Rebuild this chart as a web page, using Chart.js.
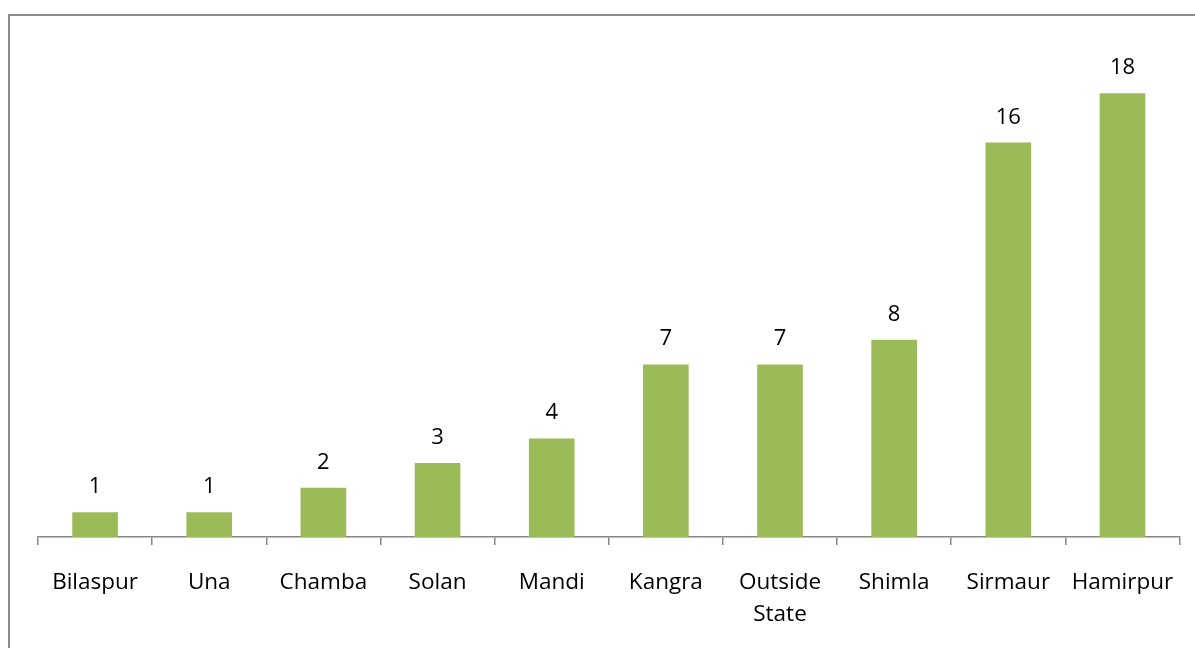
<!DOCTYPE html>
<html>
<head>
<meta charset="utf-8">
<script src="https://cdn.jsdelivr.net/npm/chart.js@4"></script>
<style>
  html, body { margin: 0; padding: 0; overflow: hidden; background: #fff; }
  #frame {
    position: absolute; left: 8px; top: 14px; width: 1300px; height: 800px;
    border: 2px solid #8c8c8c; box-sizing: border-box;
  }
  #wrap { position: absolute; left: 0; top: 0; width: 1195px; height: 648px; }
</style>
</head>
<body>
<div id="frame"></div>
<div id="wrap"><canvas id="chart"></canvas></div>
<script>
const districts = ['Bilaspur', 'Una', 'Chamba', 'Solan', 'Mandi', 'Kangra', ['Outside', 'State'], 'Shimla', 'Sirmaur', 'Hamirpur'];
const counts = [1, 1, 2, 3, 4, 7, 7, 8, 16, 18];

// valeurs au-dessus des barres
const barValues = {
  id: 'barValues',
  afterDatasetsDraw(chart) {
    const ctx = chart.ctx;
    const meta = chart.getDatasetMeta(0);
    ctx.save();
    ctx.font = '22px "Open Sans", sans-serif';
    ctx.fillStyle = '#000';
    ctx.textAlign = 'center';
    ctx.textBaseline = 'alphabetic';
    meta.data.forEach((bar, i) => {
      ctx.fillText(String(counts[i]), bar.x, bar.y - 19);
    });
    ctx.restore();
  }
};

const ctx = document.getElementById('chart').getContext('2d');
new Chart(ctx, {
  type: 'bar',
  data: {
    labels: districts,
    datasets: [{
      data: counts,
      backgroundColor: '#9bbb59',
      categoryPercentage: 1,
      barPercentage: 0.4
    }]
  },
  options: {
    responsive: true,
    maintainAspectRatio: false,
    animation: false,
    layout: { padding: { left: 38, right: 15, top: 44, bottom: 0 } },
    plugins: { legend: { display: false }, tooltip: { enabled: false } },
    scales: {
      x: {
        afterFit: s => { s.height = 111; },
        grid: { offset: true, drawOnChartArea: false, tickLength: 8, color: '#868686', lineWidth: 1.5 },
        border: { display: true, color: '#868686', width: 1.5 },
        ticks: {
          color: '#000',
          padding: 21,
          maxRotation: 0,
          autoSkip: false,
          font: { family: '"Open Sans", sans-serif', size: 22.5, lineHeight: 1.45 }
        }
      },
      y: {
        display: false,
        min: 0,
        max: 20
      }
    }
  },
  plugins: [barValues]
});
</script>
</body>
</html>
